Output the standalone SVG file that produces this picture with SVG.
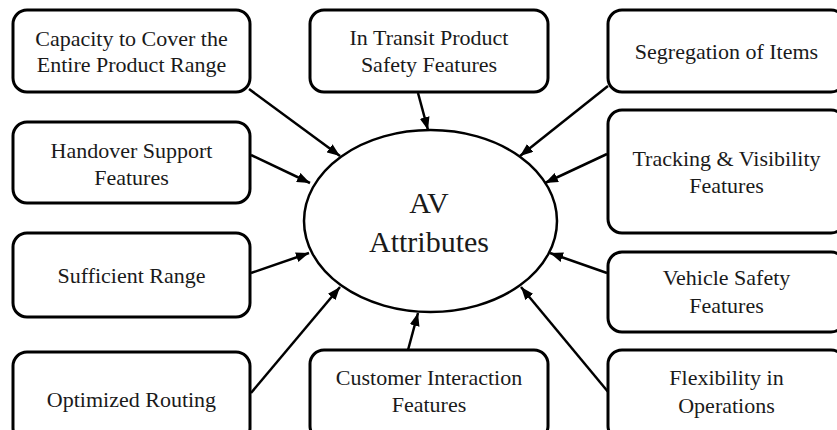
<svg xmlns="http://www.w3.org/2000/svg" width="837" height="430" viewBox="0 0 837 430">
<style>
.box{fill:#fff;stroke:#000;stroke-width:3}
.t{font-family:"Liberation Serif","Times New Roman",serif;font-size:22px;fill:#1a1a1a;text-anchor:middle}
.big{font-size:30px}
.c{stroke:#000;stroke-width:2.5;fill:none;marker-end:url(#ah)}
</style>
<defs>
<marker id="ah" viewBox="0 0 13 10" markerWidth="13" markerHeight="10" refX="13" refY="5" orient="auto" markerUnits="userSpaceOnUse">
<path d="M0,0 L13,5 L0,10 z" fill="#000"/>
</marker>
</defs>
<rect width="837" height="430" fill="#fff"/>
<g id="connectors">
<line class="c" x1="249" y1="89" x2="340" y2="156"/>
<line class="c" x1="251" y1="155" x2="310" y2="183"/>
<line class="c" x1="418" y1="93" x2="428" y2="130"/>
<line class="c" x1="608" y1="86" x2="520" y2="156"/>
<line class="c" x1="607" y1="154" x2="545" y2="183"/>
<line class="c" x1="251" y1="273" x2="309" y2="253"/>
<line class="c" x1="251" y1="393" x2="340" y2="287"/>
<line class="c" x1="408" y1="350" x2="418" y2="313"/>
<line class="c" x1="607" y1="273" x2="550" y2="253"/>
<line class="c" x1="609" y1="393" x2="521" y2="287"/>
</g>
<g id="center">
<ellipse cx="430.5" cy="221" rx="126.5" ry="91" fill="#fff" stroke="#000" stroke-width="2.5"/>
<text class="t big" x="429" y="213">AV</text>
<text class="t big" x="429" y="252">Attributes</text>
</g>
<g id="capacity">
<rect class="box" x="13" y="10" width="237" height="82" rx="14"/>
<text class="t" x="131.5" y="46">Capacity to Cover the</text>
<text class="t" x="131.5" y="72">Entire Product Range</text>
</g>
<g id="transit">
<rect class="box" x="310" y="10" width="238" height="82" rx="14"/>
<text class="t" x="429" y="45">In Transit Product</text>
<text class="t" x="429" y="72">Safety Features</text>
</g>
<g id="segregation">
<rect class="box" x="608" y="10" width="237" height="82" rx="14"/>
<text class="t" x="726.5" y="59">Segregation of Items</text>
</g>
<g id="handover">
<rect class="box" x="13" y="122" width="237" height="81" rx="14"/>
<text class="t" x="131.5" y="158">Handover Support</text>
<text class="t" x="131.5" y="185">Features</text>
</g>
<g id="tracking">
<rect class="box" x="608" y="110" width="237" height="123" rx="14"/>
<text class="t" x="726.5" y="166">Tracking &amp; Visibility</text>
<text class="t" x="726.5" y="193">Features</text>
</g>
<g id="sufficient">
<rect class="box" x="13" y="233" width="237" height="84" rx="14"/>
<text class="t" x="131.5" y="283">Sufficient Range</text>
</g>
<g id="vehicle">
<rect class="box" x="608" y="252" width="237" height="80" rx="14"/>
<text class="t" x="726.5" y="285">Vehicle Safety</text>
<text class="t" x="726.5" y="313">Features</text>
</g>
<g id="optimized">
<rect class="box" x="13" y="352" width="237" height="90" rx="14"/>
<text class="t" x="131.5" y="407">Optimized Routing</text>
</g>
<g id="customer">
<rect class="box" x="310" y="350" width="238" height="90" rx="14"/>
<text class="t" x="429" y="385">Customer Interaction</text>
<text class="t" x="429" y="412">Features</text>
</g>
<g id="flexibility">
<rect class="box" x="608" y="350" width="237" height="90" rx="14"/>
<text class="t" x="726.5" y="385">Flexibility in</text>
<text class="t" x="726.5" y="413">Operations</text>
</g>
</svg>
